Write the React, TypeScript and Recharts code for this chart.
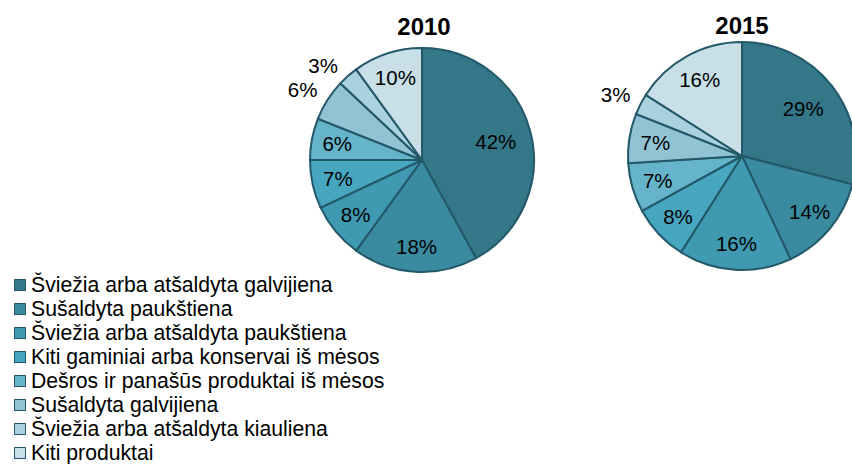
import React from 'react';
import { PieChart, Pie, Cell, Legend } from 'recharts';

const categories = [
  'Šviežia arba atšaldyta galvijiena',
  'Sušaldyta paukštiena',
  'Šviežia arba atšaldyta paukštiena',
  'Kiti gaminiai arba konservai iš mėsos',
  'Dešros ir panašūs produktai iš mėsos',
  'Sušaldyta galvijiena',
  'Šviežia arba atšaldyta kiauliena',
  'Kiti produktai',
];

const values2010 = [42, 18, 8, 7, 6, 6, 3, 10];
const values2015 = [29, 14, 16, 8, 7, 7, 3, 16];

const years = ['2010', '2015'];

const colors = ['#337789', '#3A8BA0', '#3F99B1', '#48A7C0', '#66B4CA', '#90C4D5', '#AAD1DE', '#C8DFE7'];
const strokeColor = '#235868';
const FONT = '"Liberation Sans", Arial, sans-serif';
const RAD = Math.PI / 180;

const data2010 = categories.map((name, i) => ({ name, value: values2010[i] }));
const data2015 = categories.map((name, i) => ({ name, value: values2015[i] }));

const LABEL_SIZE = 20.5;

const makeLabel = (outsideIdx: number[]) => (props: any) => {
  const { cx, cy, midAngle, outerRadius, percent, index, value } = props;
  const cos = Math.cos(-midAngle * RAD);
  const sin = Math.sin(-midAngle * RAD);
  if (outsideIdx.includes(index)) {
    const ex = cx + outerRadius * cos;
    const ey = cy + outerRadius * sin;
    return (
      <text x={ex - 10} y={ey - 10} textAnchor="end" dominantBaseline="central" fontSize={LABEL_SIZE} fontFamily={FONT} fill="#000">
        {value}%
      </text>
    );
  }
  const r = outerRadius * (percent > 0.25 ? 0.68 : 0.77);
  return (
    <text x={cx + r * cos} y={cy + r * sin} textAnchor="middle" dominantBaseline="central" fontSize={LABEL_SIZE} fontFamily={FONT} fill="#000">
      {value}%
    </text>
  );
};

const LegendContent = () => (
  <div style={{ fontFamily: FONT, fontSize: 21.2, color: '#000' }}>
    {categories.map((c, i) => (
      <div key={c} style={{ display: 'flex', alignItems: 'center', height: 24, whiteSpace: 'nowrap' }}>
        <span
          style={{
            display: 'inline-block',
            width: 10,
            height: 10,
            background: colors[i],
            border: `1px solid ${strokeColor}`,
            marginRight: 5,
          }}
        />
        <span>{c}</span>
      </div>
    ))}
  </div>
);

export default function App() {
  return (
    <div style={{ position: 'fixed', left: 0, top: 0, width: 852, height: 464, overflow: 'hidden', background: '#fff' }}>
      <PieChart width={852} height={464} margin={{ top: 0, right: 0, bottom: 0, left: 0 }}>
        <text x={424} y={26} textAnchor="middle" dominantBaseline="central" fontSize={24} fontWeight="bold" fontFamily={FONT} fill="#000">
          {years[0]}
        </text>
        <text x={742} y={25} textAnchor="middle" dominantBaseline="central" fontSize={24} fontWeight="bold" fontFamily={FONT} fill="#000">
          {years[1]}
        </text>
        <Pie
          data={data2010}
          dataKey="value"
          nameKey="name"
          cx={422}
          cy={160}
          outerRadius={112}
          startAngle={90}
          endAngle={-270}
          stroke={strokeColor}
          strokeWidth={2}
          labelLine={false}
          label={makeLabel([5, 6])}
          isAnimationActive={false}
        >
          {data2010.map((d, i) => (
            <Cell key={d.name} fill={colors[i]} />
          ))}
        </Pie>
        <Pie
          data={data2015}
          dataKey="value"
          nameKey="name"
          cx={742}
          cy={156}
          outerRadius={114}
          startAngle={90}
          endAngle={-270}
          stroke={strokeColor}
          strokeWidth={2}
          labelLine={false}
          label={makeLabel([6])}
          isAnimationActive={false}
        >
          {data2015.map((d, i) => (
            <Cell key={d.name} fill={colors[i]} />
          ))}
        </Pie>
        <Legend
          content={<LegendContent />}
          layout="vertical"
          wrapperStyle={{ position: 'absolute', left: 14, top: 273, width: 440, height: 192 }}
        />
      </PieChart>
    </div>
  );
}
